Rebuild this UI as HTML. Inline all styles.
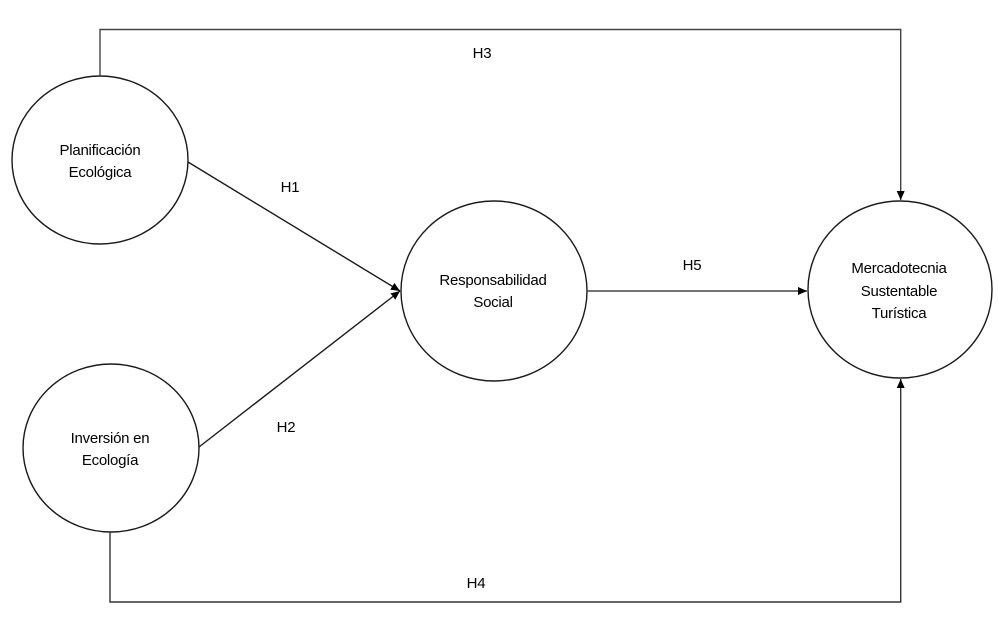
<!DOCTYPE html>
<html>
<head>
<meta charset="utf-8">
<style>
html,body{margin:0;padding:0;background:#fff;}
svg{display:block;}
text{font-family:"Liberation Sans",sans-serif;font-size:15px;letter-spacing:-0.25px;fill:#000;text-anchor:middle;}
</style>
</head>
<body>
<svg width="998" height="622" viewBox="0 0 998 622" xmlns="http://www.w3.org/2000/svg">
<defs>
<marker id="ah" markerWidth="10" markerHeight="8" refX="9" refY="4" orient="auto" markerUnits="userSpaceOnUse">
<path d="M0,0 L9,4 L0,8 Z" fill="#000"/>
</marker>
</defs>
<g fill="none" stroke="#1a1a1a" stroke-width="1.4">
<ellipse cx="100" cy="160" rx="88" ry="84"/>
<ellipse cx="111" cy="448" rx="88" ry="84"/>
<ellipse cx="494" cy="291" rx="93" ry="90"/>
<ellipse cx="900" cy="289.5" rx="92" ry="88.5"/>
<polyline points="100,76 100,29.5 900.7,29.5 900.7,200" stroke="#444" marker-end="url(#ah)"/>
<polyline points="110,532 110,602 900.7,602 900.7,379" stroke="#333" marker-end="url(#ah)"/>
<line x1="188" y1="162" x2="400" y2="291" marker-end="url(#ah)"/>
<line x1="199" y1="447" x2="400" y2="291" marker-end="url(#ah)"/>
<line x1="587" y1="291" x2="807" y2="291" stroke="#444" marker-end="url(#ah)"/>
</g>
<text x="100" y="155">Planificación</text>
<text x="100" y="177">Ecológica</text>
<text x="110" y="443">Inversión en</text>
<text x="110" y="465">Ecología</text>
<text x="493" y="285">Responsabilidad</text>
<text x="493" y="307">Social</text>
<text x="899" y="273">Mercadotecnia</text>
<text x="899" y="296">Sustentable</text>
<text x="899" y="318">Turística</text>
<text x="290" y="192">H1</text>
<text x="286" y="432">H2</text>
<text x="482" y="58">H3</text>
<text x="476" y="588">H4</text>
<text x="692" y="270">H5</text>
</svg>
</body>
</html>
